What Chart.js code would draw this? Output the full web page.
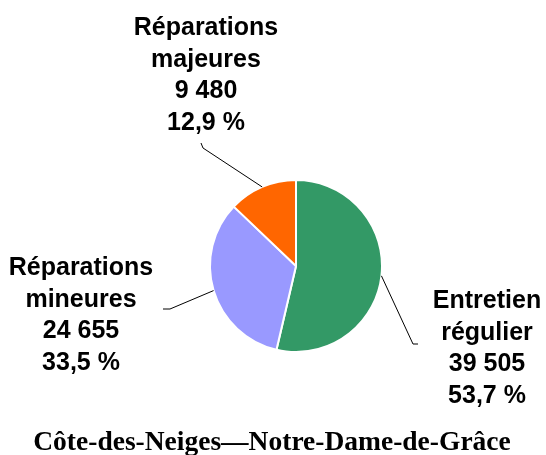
<!DOCTYPE html>
<html>
<head>
<meta charset="utf-8">
<script src="https://cdn.jsdelivr.net/npm/chart.js@4"></script>
<style>
  html, body { margin: 0; padding: 0; background: #fff; }
  #wrap { width: 546px; height: 455px; }
</style>
</head>
<body>
<div id="wrap"><canvas id="pie" width="546" height="455"></canvas></div>
<script>
// data
const categories = [['Entretien', 'régulier'], ['Réparations', 'mineures'], ['Réparations', 'majeures']]
const values = [39505, 24655, 9480]
const percents = ['53,7 %', '33,5 %', '12,9 %']   // as printed in the source
const colors = ['#339966', '#9999FF', '#FF6600']
const title = 'Côte-des-Neiges—Notre-Dame-de-Grâce'

// where each label sits (center x, first baseline) and the elbow of its leader line
const labelPos = [
    { x: 487, y: 308, line: [[413, 344], [418, 344]] },
    { x: 81, y: 275, line: [[170, 309], [163, 309]] },
    { x: 206, y: 35, line: [[203, 148], [201, 143]] }
]

function fmtNum(n) {
    return String(n).replace(/\B(?=(\d{3})+(?!\d))/g, ' ')
}

// labels + leader lines drawn from the arc elements
const pieLabels = {
    id: 'pieLabels',
    afterDatasetsDraw(chart) {
        const c = chart.ctx
        const arcs = chart.getDatasetMeta(0).data
        c.save()
        arcs.forEach((arc, i) => {
            const p = arc.getProps(['x', 'y', 'startAngle', 'endAngle', 'outerRadius'], true)
            const mid = (p.startAngle + p.endAngle) / 2
            const sx = p.x + Math.cos(mid) * p.outerRadius
            const sy = p.y + Math.sin(mid) * p.outerRadius
            const pos = labelPos[i]
            c.strokeStyle = '#000'
            c.lineWidth = 1
            c.beginPath()
            c.moveTo(sx, sy)
            pos.line.forEach(pt => c.lineTo(pt[0], pt[1]))
            c.stroke()

            const lines = categories[i].concat([fmtNum(values[i]), percents[i]])
            c.fillStyle = '#000'
            c.font = 'bold 25px "Liberation Sans", Arial, sans-serif'
            c.textAlign = 'center'
            c.textBaseline = 'alphabetic'
            lines.forEach((t, k) => c.fillText(t, pos.x, pos.y + k * 31.5))
        })
        c.font = 'bold 27.5px "Liberation Serif", "Times New Roman", serif'
        c.textAlign = 'center'
        c.fillText(title, 272, 450)
        c.restore()
    }
}

const ctx = document.getElementById('pie').getContext('2d')

new Chart(ctx, {
    type: 'pie',
    data: {
        labels: categories.map(l => l.join(' ')),
        datasets: [{
            data: values,
            backgroundColor: colors,
            borderColor: '#fff',
            borderWidth: 2
        }]
    },
    options: {
        responsive: false,
        animation: false,
        layout: { padding: { left: 209, right: 163, top: 179, bottom: 102 } },
        plugins: {
            legend: { display: false },
            tooltip: { enabled: false }
        }
    },
    plugins: [pieLabels]
})
</script>
</body>
</html>
